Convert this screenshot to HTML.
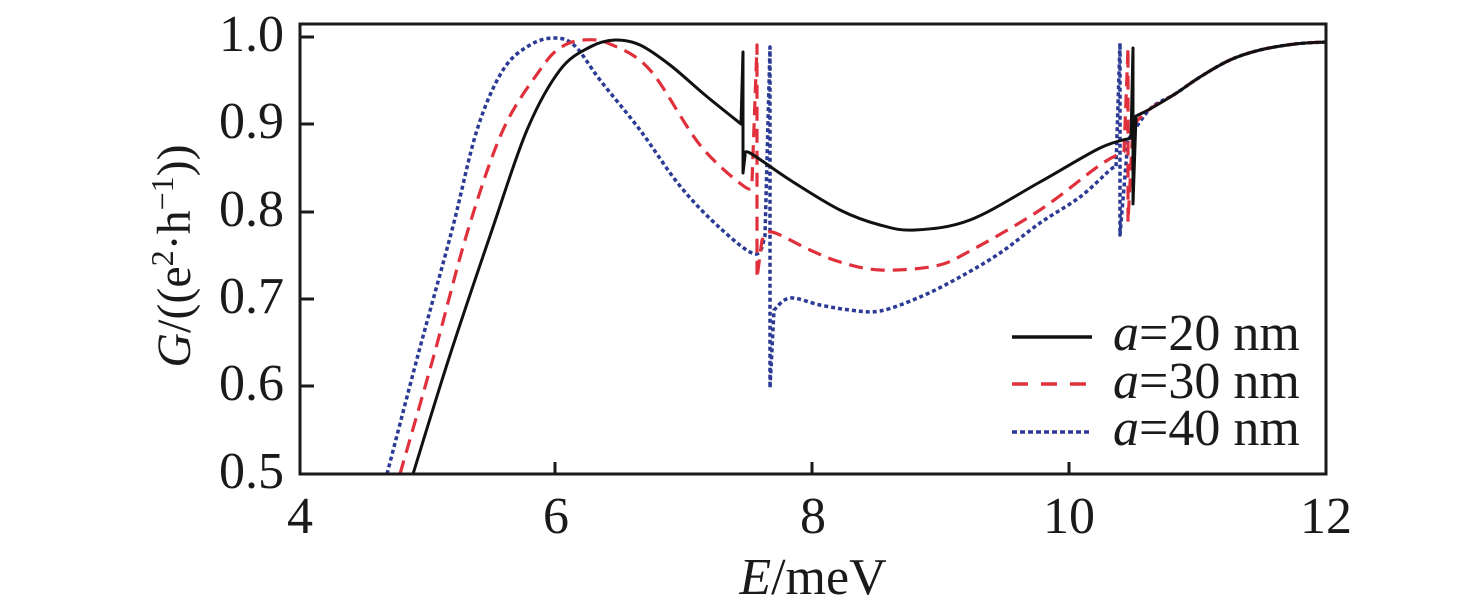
<!DOCTYPE html>
<html><head><meta charset="utf-8"><style>
html,body{margin:0;padding:0;background:#fff;}
svg{display:block;}
text{font-family:"Liberation Serif",serif;fill:#1a1a1a;}
</style></head><body>
<svg id="s" width="1476" height="616" viewBox="0 0 1476 616" xmlns="http://www.w3.org/2000/svg">
<g fill="none" stroke-linejoin="round" stroke-linecap="butt">
<path id="pb" stroke="#2b3a94" stroke-width="3.5" stroke-dasharray="4 3"/>
<path id="pr" stroke="#e0303c" stroke-width="3.2" stroke-dasharray="14 8"/>
<path id="pk" stroke="#111" stroke-width="3"/>
</g>
<rect x="300" y="24" width="1026" height="450" fill="none" stroke="#1a1a1a" stroke-width="3"/>
<g stroke="#1a1a1a" stroke-width="3">
<line x1="300" y1="37" x2="314" y2="37"/>
<line x1="300" y1="124" x2="314" y2="124"/>
<line x1="300" y1="212" x2="314" y2="212"/>
<line x1="300" y1="299" x2="314" y2="299"/>
<line x1="300" y1="386" x2="314" y2="386"/>
<line x1="555" y1="474" x2="555" y2="462"/>
<line x1="812" y1="474" x2="812" y2="462"/>
<line x1="1069" y1="474" x2="1069" y2="462"/>
</g>
<g font-size="52" text-anchor="end">
<text x="284" y="51">1.0</text>
<text x="284" y="138">0.9</text>
<text x="284" y="226">0.8</text>
<text x="284" y="313">0.7</text>
<text x="284" y="400">0.6</text>
<text x="284" y="488">0.5</text>
</g>
<g font-size="52" text-anchor="middle">
<text x="300" y="533">4</text>
<text x="556" y="533">6</text>
<text x="813" y="533">8</text>
<text x="1069" y="533">10</text>
<text x="1326" y="533">12</text>
<text x="813" y="594"><tspan font-style="italic">E</tspan>/meV</text>
</g>
<text transform="translate(190,256) rotate(-90)" font-size="48" text-anchor="middle"><tspan font-style="italic">G</tspan>/((e<tspan font-size="32" dy="-17">2</tspan><tspan dy="17">·h</tspan><tspan font-size="32" dy="-17">−1</tspan><tspan dy="17">))</tspan></text>
<line x1="1012" y1="337" x2="1092" y2="337" stroke="#111" stroke-width="3.5"/>
<line x1="1012" y1="384" x2="1092" y2="384" stroke="#e0303c" stroke-width="3.5" stroke-dasharray="16 13"/>
<line x1="1012" y1="432" x2="1092" y2="432" stroke="#2b3a94" stroke-width="3.5" stroke-dasharray="5 3"/>
<g font-size="52">
<text x="1113" y="350"><tspan font-style="italic">a</tspan>=20 nm</text>
<text x="1113" y="398"><tspan font-style="italic">a</tspan>=30 nm</text>
<text x="1113" y="445"><tspan font-style="italic">a</tspan>=40 nm</text>
</g>
</svg>
<script>
function cr(pts){var d="M"+pts[0][0]+","+pts[0][1];
for(var i=0;i<pts.length-1;i++){var p0=pts[i-1]||pts[i],p1=pts[i],p2=pts[i+1],p3=pts[i+2]||p2;
var c1=[p1[0]+(p2[0]-p0[0])/6,p1[1]+(p2[1]-p0[1])/6],c2=[p2[0]-(p3[0]-p1[0])/6,p2[1]-(p3[1]-p1[1])/6];
d+=" C"+c1+" "+c2+" "+p2;}return d;}
function build(segs){var d="";segs.forEach(function(s,i){var p=cr(s);d+=(i?" L"+p.slice(1):p);});return d;}
var tail=[[1150,109],[1175,94],[1200,77],[1230,60],[1260,50],[1295,44],[1326,42]];
document.getElementById("pk").setAttribute("d",build([
[[413,474],[450,355],[492,230],[527,130],[560,70],[590,47],[615,40],[640,45],[670,65],[705,95],[741,124]],
[[743,52]],[[743,173]],
[[745,156],[750,153],[790,180],[840,210],[880,225],[915,230],[970,220],[1040,182],[1100,148],[1131,138]],
[[1133,48]],[[1133,204]],
[[1136,116]].concat(tail)]));
document.getElementById("pr").setAttribute("d",build([
[[400,474],[434,355],[468,230],[503,130],[540,70],[560,48],[583,40],[610,44],[650,70],[700,145],[745,187],[752,182]],
[[757,45]],[[757,278]],
[[762,240],[772,232],[810,250],[840,262],[880,270],[935,266],[970,251],[1040,210],[1100,165],[1124,152]],
[[1128,48]],[[1128,222]],
[[1133,125]].concat(tail)]));
document.getElementById("pb").setAttribute("d",build([
[[387,474],[418,355],[452,230],[477,130],[503,70],[530,45],[555,38],[575,46],[600,80],[640,130],[680,186],[720,228],[755,254],[765,236]],
[[770,47]],[[770,388]],
[[774,310],[790,298],[820,305],[850,310],[880,311],[920,297],[960,277],[1000,253],[1040,223],[1080,197],[1110,170],[1116,167]],
[[1120,43]],[[1120,235]],
[[1128,140]].concat(tail)]));
</script>
</body></html>
